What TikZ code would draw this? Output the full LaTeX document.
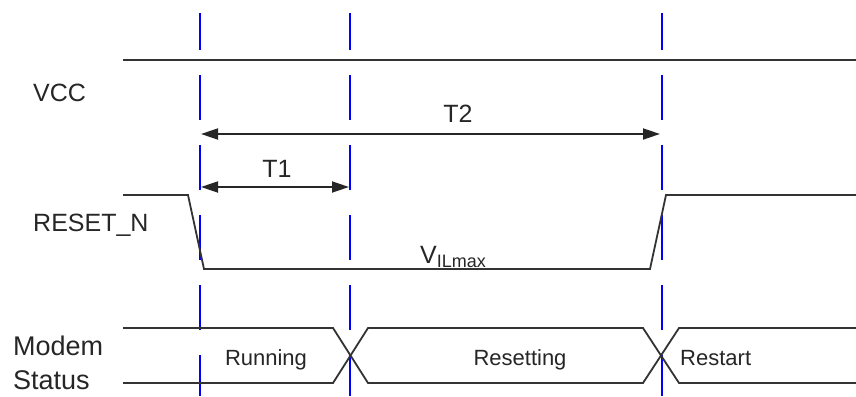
\documentclass[tikz,border=0pt]{standalone}
\usepackage{fontspec}
\setmainfont{Liberation Sans}
\usetikzlibrary{arrows.meta}
\begin{document}
\begin{tikzpicture}[x=1pt,y=-1pt,
  sig/.style={draw=black!80, line width=1.8pt, line join=miter},
  guide/.style={draw=blue, line width=1.8pt, dash pattern=on 45pt off 25pt, dash phase=8pt},
  dim/.style={draw=black!85, line width=1.8pt, {Triangle[length=17pt,width=11pt]}-{Triangle[length=17pt,width=11pt]}},
  lbl/.style={inner sep=0pt, text=black!85, font=\fontsize{25}{28}\selectfont},
  sml/.style={inner sep=0pt, text=black!85, font=\fontsize{22}{26}\selectfont},
  big/.style={inner sep=0pt, text=black!85, font=\fontsize{27}{30}\selectfont}]
\useasboundingbox (0,0) rectangle (856,396);
% guide lines
\coordinate (g1t) at (200,13); \coordinate (g1b) at (200,396);
\coordinate (g2t) at (350,13); \coordinate (g2b) at (350,396);
\coordinate (g3t) at (662,13); \coordinate (g3b) at (662,396);
\draw[guide] (g1t) -- (g1b);
\draw[guide] (g2t) -- (g2b);
\draw[guide] (g3t) -- (g3b);
% VCC
\coordinate (v0) at (123,60); \coordinate (v1) at (856,60);
\draw[sig] (v0) -- (v1);
\node[lbl, anchor=base west] (vcc) at (33,101) {VCC};
% T2 / T1
\coordinate (t2a) at (201,134); \coordinate (t2b) at (660,134);
\draw[dim] (t2a) -- (t2b);
\node[lbl, anchor=base] (t2) at (458,122) {T2};
\coordinate (t1a) at (201,187); \coordinate (t1b) at (349,187);
\draw[dim] (t1a) -- (t1b);
\node[lbl, anchor=base] (t1) at (277,177) {T1};
% RESET_N
\coordinate (r0) at (123,195); \coordinate (r1) at (188,195);
\coordinate (r2) at (204,269); \coordinate (r3) at (650,269);
\coordinate (r4) at (666,195); \coordinate (r5) at (856,195);
\draw[sig] (r0) -- (r1) -- (r2) -- (r3) -- (r4) -- (r5);
\node[lbl, anchor=base west] (rst) at (33,231) {RESET\_N};
\node[inner sep=0pt, anchor=base west, text=black!85] (vil) at (420,263)
  {\fontsize{25}{28}\selectfont V\raisebox{-4pt}{\fontsize{18}{19}\selectfont ILmax}};
% Modem status bus
\coordinate (a0) at (123,328); \coordinate (a1) at (333,328);
\coordinate (a2) at (368,383); \coordinate (a3) at (643,383);
\coordinate (a4) at (679,328); \coordinate (a5) at (856,328);
\coordinate (b0) at (123,383); \coordinate (b1) at (333,383);
\coordinate (b2) at (368,328); \coordinate (b3) at (643,328);
\coordinate (b4) at (679,383); \coordinate (b5) at (856,383);
\draw[sig] (a0) -- (a1) -- (a2) -- (a3) -- (a4) -- (a5);
\draw[sig] (b0) -- (b1) -- (b2) -- (b3) -- (b4) -- (b5);
\node[sml, anchor=base] (run) at (266,365) {Running};
\node[sml, anchor=base] (rsg) at (520,365) {Resetting};
\node[sml, anchor=base west] (rsr) at (680,365) {Restart};
\node[big, anchor=base west] (mod) at (13,355) {Modem};
\node[big, anchor=base west] (sta) at (13,389) {Status};
\end{tikzpicture}
\end{document}
